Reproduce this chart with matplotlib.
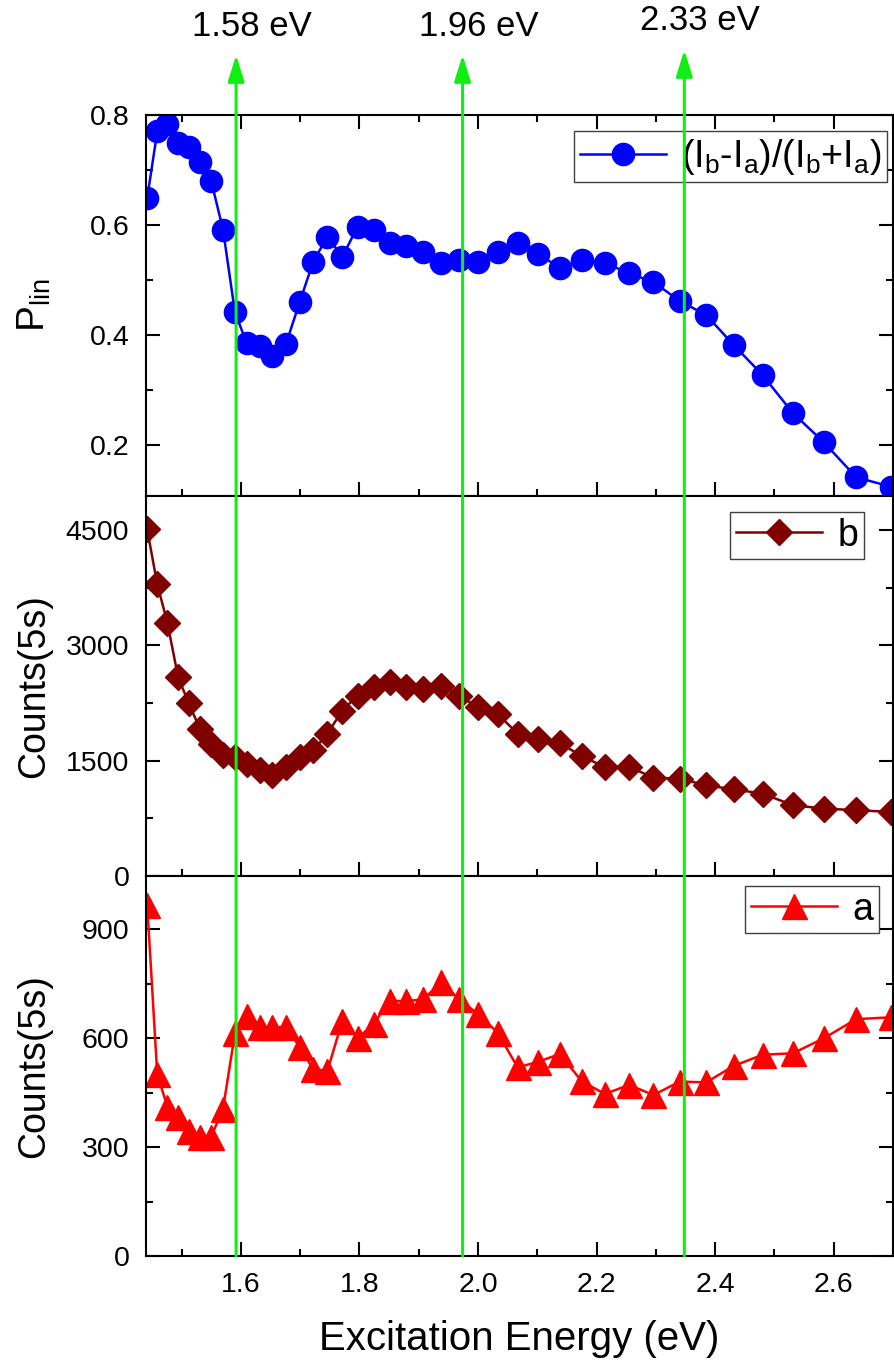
import matplotlib
matplotlib.use("Agg")
import matplotlib.pyplot as plt
from matplotlib import transforms
from matplotlib.patches import FancyArrowPatch
from matplotlib.ticker import MultipleLocator

plt.rcParams["font.family"] = ["Liberation Sans", "DejaVu Sans"]
plt.rcParams["mathtext.fontset"] = "custom"
plt.rcParams["mathtext.rm"] = "Liberation Sans"
plt.rcParams["mathtext.it"] = "Liberation Sans:italic"
plt.rcParams["mathtext.default"] = "regular"

# excitation energies (eV)
energy = [1.442, 1.459, 1.476, 1.494, 1.512, 1.531, 1.550, 1.570, 1.590, 1.610,
          1.632, 1.653, 1.676, 1.699, 1.722, 1.746, 1.771, 1.797, 1.824, 1.851,
          1.879, 1.908, 1.938, 1.968, 2.000, 2.033, 2.067, 2.102, 2.138, 2.175,
          2.214, 2.255, 2.296, 2.340, 2.385, 2.431, 2.480, 2.531, 2.583, 2.638,
          2.696]

# linear polarisation (Ib-Ia)/(Ib+Ia)
p_lin = [0.649, 0.770, 0.783, 0.749, 0.742, 0.715, 0.680, 0.591, 0.441, 0.385,
         0.379, 0.361, 0.383, 0.459, 0.533, 0.579, 0.542, 0.597, 0.591, 0.567,
         0.562, 0.551, 0.531, 0.536, 0.533, 0.551, 0.568, 0.547, 0.522, 0.536,
         0.531, 0.512, 0.496, 0.462, 0.436, 0.382, 0.327, 0.258, 0.205, 0.141,
         0.124]

# counts per 5 s, polarisation b
counts_b = [4510, 3796, 3298, 2594, 2248, 1915, 1721, 1569, 1547, 1461,
            1375, 1310, 1418, 1547, 1634, 1851, 2153, 2348, 2455, 2520,
            2455, 2434, 2477, 2348, 2196, 2110, 1851, 1786, 1729, 1560,
            1418, 1418, 1280, 1267, 1180, 1128, 1072, 921, 878, 856,
            834]

# counts per 5 s, polarisation a
counts_a = [967, 500, 411, 382, 345, 327, 328, 406, 613, 661,
            631, 629, 631, 576, 514, 510, 646, 600, 638, 703,
            701, 707, 754, 707, 666, 615, 519, 535, 556, 481,
            446, 471, 443, 480, 478, 523, 554, 558, 599, 652,
            657]

# laser lines
laser_x = [1.592, 1.974, 2.348]
laser_labels = ["1.58 eV", "1.96 eV", "2.33 eV"]

fig = plt.figure(figsize=(8.94, 13.68), dpi=100)
W, H = 894, 1368
left = 146 / W
width = 747 / W
ax_top = fig.add_axes([left, 872 / H, width, 381 / H])
ax_mid = fig.add_axes([left, 492 / H, width, 380 / H])
ax_bot = fig.add_axes([left, 112 / H, width, 380 / H])

ax_top.plot(energy, p_lin, "-o", color="#0000ff", ms=16, lw=1.8,
            label=r"(I$_b$-I$_a$)/(I$_b$+I$_a$)")
ax_mid.plot(energy, counts_b, "-D", color="#800000", ms=13.5, lw=1.8, label="b")
ax_bot.plot(energy, counts_a, "-^", color="#ff0000", ms=18, lw=1.8, label="a")

ax_top.set_ylim(0.107, 0.8)
ax_mid.set_ylim(0, 4945)
ax_bot.set_ylim(0, 1046)

ax_top.yaxis.set_major_locator(MultipleLocator(0.2))
ax_top.yaxis.set_minor_locator(MultipleLocator(0.1))
ax_mid.yaxis.set_major_locator(MultipleLocator(1500))
ax_mid.yaxis.set_minor_locator(MultipleLocator(750))
ax_bot.yaxis.set_major_locator(MultipleLocator(300))
ax_bot.yaxis.set_minor_locator(MultipleLocator(150))

for ax in (ax_top, ax_mid, ax_bot):
    ax.set_xlim(1.44, 2.70)
    ax.xaxis.set_major_locator(MultipleLocator(0.2))
    ax.xaxis.set_minor_locator(MultipleLocator(0.1))
    ax.tick_params(which="both", direction="in", width=1.5, left=True, right=True,
                   labelsize=20.5)
    ax.tick_params(which="major", length=10)
    ax.tick_params(which="minor", length=5)
    ax.tick_params(axis="y", pad=12)
    ax.tick_params(axis="x", pad=11.5)
    for s in ax.spines.values():
        s.set_linewidth(1.5)

ax_top.tick_params(which="both", top=True, labelbottom=False)
ax_mid.tick_params(which="both", top=False, labelbottom=False)
ax_bot.tick_params(which="both", top=False)

ax_top.set_ylabel("P$_{lin}$", fontsize=28)
ax_mid.set_ylabel("Counts(5s)", fontsize=27)
ax_bot.set_ylabel("Counts(5s)", fontsize=27)
for ax in (ax_top, ax_mid, ax_bot):
    ax.yaxis.set_label_coords(-0.125, 0.5)
ax_bot.set_xlabel("Excitation Energy (eV)", fontsize=29)
ax_bot.xaxis.set_label_coords(0.5, -0.168)

leg_kw = dict(loc="upper right", borderaxespad=0, fontsize=27, fancybox=False,
              edgecolor="#404040", framealpha=1, handlelength=2.3,
              handletextpad=0.4, borderpad=0.15, numpoints=1)
for ax, anchor in ((ax_top, (0.992, 0.958)), (ax_mid, (0.961, 0.958)),
                   (ax_bot, (0.981, 0.974))):
    leg = ax.legend(bbox_to_anchor=anchor, **leg_kw)
    leg.get_frame().set_linewidth(1.0)

# green arrows marking the laser lines, drawn over all panels
blend = transforms.blended_transform_factory(ax_bot.transData, fig.transFigure)
y_base = ax_bot.get_position().y0
tip_y = [1 - 55 / H, 1 - 55 / H, 1 - 50 / H]
text_y = [1 - 27 / H, 1 - 27 / H, 1 - 21 / H]
for x, lab, ty, tx in zip(laser_x, laser_labels, tip_y, text_y):
    arr = FancyArrowPatch((x, y_base), (x, ty), transform=blend,
                          arrowstyle="-|>,head_length=16,head_width=5",
                          mutation_scale=1, color="#11ee11", lw=2.2,
                          shrinkA=0, shrinkB=0, zorder=10)
    fig.add_artist(arr)
    fig.text(x + 0.027, tx, lab, transform=blend, ha="center", va="center",
             fontsize=25)

fig.savefig("out.png", dpi=100)
